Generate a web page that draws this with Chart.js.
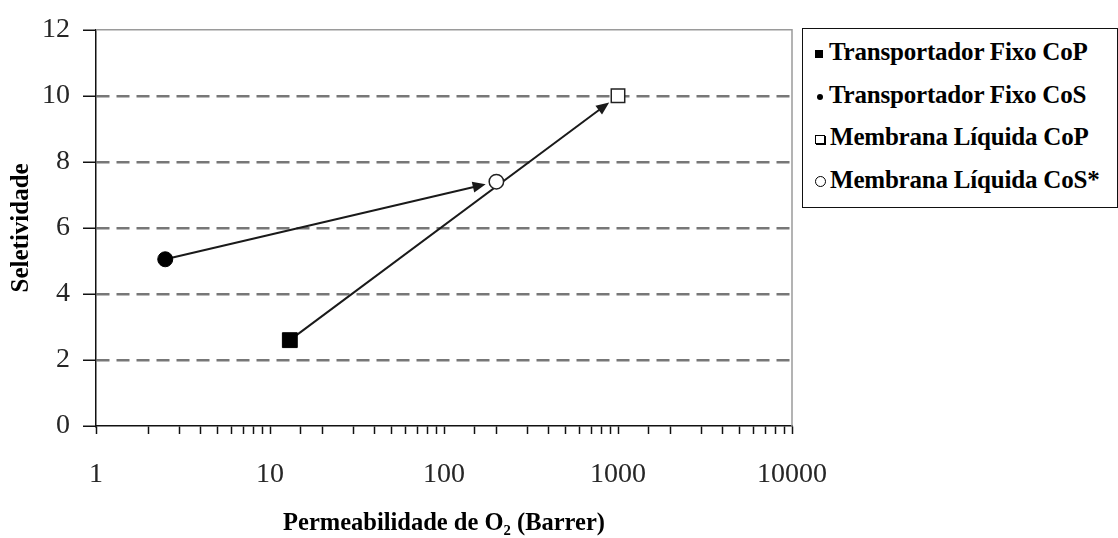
<!DOCTYPE html>
<html>
<head>
<meta charset="utf-8">
<script src="https://cdn.jsdelivr.net/npm/chart.js@4/dist/chart.umd.min.js"></script>
<style>
  html, body { margin: 0; padding: 0; background: #fff; }
  #wrap { position: relative; width: 1118px; height: 538px; }
  #c { position: absolute; left: 0; top: 0; }
  #legend {
    position: absolute; left: 802px; top: 28px; width: 316px; height: 180px;
    box-sizing: border-box; border: 1.5px solid #111; background: #fff;
    padding: 2px 0 0 12px;
    font-family: "Liberation Serif", "Times New Roman", serif; font-weight: bold;
    font-size: 25px; color: #000; letter-spacing: -0.2px;
  }
  .item { height: 42.5px; line-height: 42.5px; white-space: nowrap; }
  .mk { display: inline-block; vertical-align: middle; margin-right: 5px; box-sizing: border-box; }
  .m0 { width: 8px; height: 8px; background: #000; margin-right: 6px; }
  .m1 { width: 6px; height: 6px; background: #000; border-radius: 50%; margin-left: 2px; margin-right: 6px; }
  .m2 { width: 10px; height: 9px; border: 1px solid #000; box-shadow: 1px 1px 0 #000; margin-right: 5px; }
  .m3 { width: 11px; height: 11px; border: 1px solid #000; border-radius: 50%; margin-right: 4px; }
</style>
</head>
<body>
<div id="wrap">
  <canvas id="c" width="1118" height="538"></canvas>
  <div id="legend"></div>
</div>
<script>
// ---- data ----
const seriesNames = ['Transportador Fixo CoP', 'Transportador Fixo CoS', 'Membrana Líquida CoP', 'Membrana Líquida CoS*'];
const permeability = [13, 2.5, 1000, 200];        // Barrer
const selectivity = [2.6, 5.05, 10.0, 7.4];
const xTickLabels = [1, 10, 100, 1000, 10000];
const yTickValues = [0, 2, 4, 6, 8, 10, 12];
const arrowPairs = [[0, 2], [1, 3]];              // from series index -> to series index
const xTitle = 'Permeabilidade de O\u2082 (Barrer)';
const yTitle = 'Seletividade';

// ---- styles ----
const pointStyles = [
  { pointStyle: 'rect', radius: 10.5, bg: '#000', border: '#000', bw: 1 },
  { pointStyle: 'circle', radius: 7.5, bg: '#000', border: '#000', bw: 1 },
  { pointStyle: 'rect', radius: 9.5, bg: '#fff', border: '#222', bw: 1.5 },
  { pointStyle: 'circle', radius: 7.2, bg: '#fff', border: '#222', bw: 1.5 }
];

// legend (HTML)
const lg = document.getElementById('legend');
seriesNames.forEach((n, i) => {
  const d = document.createElement('div');
  d.className = 'item';
  const m = document.createElement('span');
  m.className = 'mk m' + i;
  d.appendChild(m);
  d.appendChild(document.createTextNode(n));
  lg.appendChild(d);
});

const datasets = seriesNames.map((n, i) => ({
  label: n,
  data: [{ x: permeability[i], y: selectivity[i] }],
  showLine: false,
  pointStyle: pointStyles[i].pointStyle,
  pointRadius: pointStyles[i].radius,
  pointHoverRadius: pointStyles[i].radius,
  backgroundColor: pointStyles[i].bg,
  borderColor: pointStyles[i].border,
  pointBorderWidth: pointStyles[i].bw
}));

const framePlugin = {
  id: 'frame',
  beforeDatasetsDraw(chart) {
    const { ctx, chartArea: a } = chart;
    ctx.save();
    ctx.strokeStyle = '#9a9a9a';
    ctx.lineWidth = 1.5;
    ctx.beginPath();
    ctx.moveTo(a.left, a.top);
    ctx.lineTo(a.right, a.top);
    ctx.lineTo(a.right, a.bottom);
    ctx.stroke();
    ctx.restore();
  }
};

const arrowPlugin = {
  id: 'arrows',
  beforeDatasetsDraw(chart) {
    const { ctx, scales: { x, y } } = chart;
    ctx.save();
    ctx.strokeStyle = '#1a1a1a';
    ctx.fillStyle = '#1a1a1a';
    ctx.lineWidth = 2;
    arrowPairs.forEach(([a, b]) => {
      const x1 = x.getPixelForValue(permeability[a]), y1 = y.getPixelForValue(selectivity[a]);
      const x2 = x.getPixelForValue(permeability[b]), y2 = y.getPixelForValue(selectivity[b]);
      const dx = x2 - x1, dy = y2 - y1, L = Math.hypot(dx, dy);
      const ux = dx / L, uy = dy / L;
      const gap = 11, head = 13, hw = 5.5;
      const tx = x2 - ux * gap, ty = y2 - uy * gap;
      const bx = tx - ux * head, by = ty - uy * head;
      ctx.beginPath();
      ctx.moveTo(x1, y1);
      ctx.lineTo(bx + ux * 2, by + uy * 2);
      ctx.stroke();
      ctx.beginPath();
      ctx.moveTo(tx, ty);
      ctx.lineTo(bx - uy * hw, by + ux * hw);
      ctx.lineTo(bx + uy * hw, by - ux * hw);
      ctx.closePath();
      ctx.fill();
    });
    ctx.restore();
  }
};

new Chart(document.getElementById('c'), {
  type: 'scatter',
  data: { datasets },
  plugins: [framePlugin, arrowPlugin],
  options: {
    responsive: false,
    animation: false,
    layout: { padding: { top: 29, right: 326, left: 0, bottom: 0 } },
    plugins: { legend: { display: false }, tooltip: { enabled: false } },
    scales: {
      x: {
        type: 'logarithmic',
        min: 1, max: 10000,
        afterFit(s) { s.height = 112; },
        border: { display: true, color: '#111', width: 1.5 },
        grid: { drawOnChartArea: false, drawTicks: true, tickLength: 8, tickColor: '#111', tickWidth: 1.5 },
        ticks: {
          autoSkip: false, maxRotation: 0, padding: 24,
          color: '#262626',
          font: { family: '"Liberation Serif", "Times New Roman", serif', size: 28 },
          callback(v) { return xTickLabels.includes(Number(v)) ? String(v) : ''; }
        },
        title: {
          display: true, text: xTitle, color: '#000',
          font: { family: '"Liberation Serif", "Times New Roman", serif', size: 24.5, weight: 'bold' },
          padding: { top: 0, bottom: 0 }
        }
      },
      y: {
        min: 0, max: 12,
        afterFit(s) { s.width = 96; },
        afterBuildTicks(s) { s.ticks = yTickValues.map(v => ({ value: v })); },
        border: { display: true, color: '#111', width: 1.5, dash: [13, 7] },
        grid: {
          drawOnChartArea: true, drawTicks: true, tickLength: 13,
          tickColor: '#111', tickWidth: 1.5, tickBorderDash: [],
          lineWidth: 2.5,
          color: (c) => (c.tick && (c.tick.value === 0 || c.tick.value === 12)) ? 'rgba(0,0,0,0)' : '#777'
        },
        ticks: {
          padding: 13, color: '#262626',
          font: { family: '"Liberation Serif", "Times New Roman", serif', size: 28 }
        },
        title: {
          display: true, text: yTitle, color: '#000',
          font: { family: '"Liberation Serif", "Times New Roman", serif', size: 25, weight: 'bold' },
          padding: { top: 7, bottom: 0 }
        }
      }
    }
  }
});
</script>
</body>
</html>
